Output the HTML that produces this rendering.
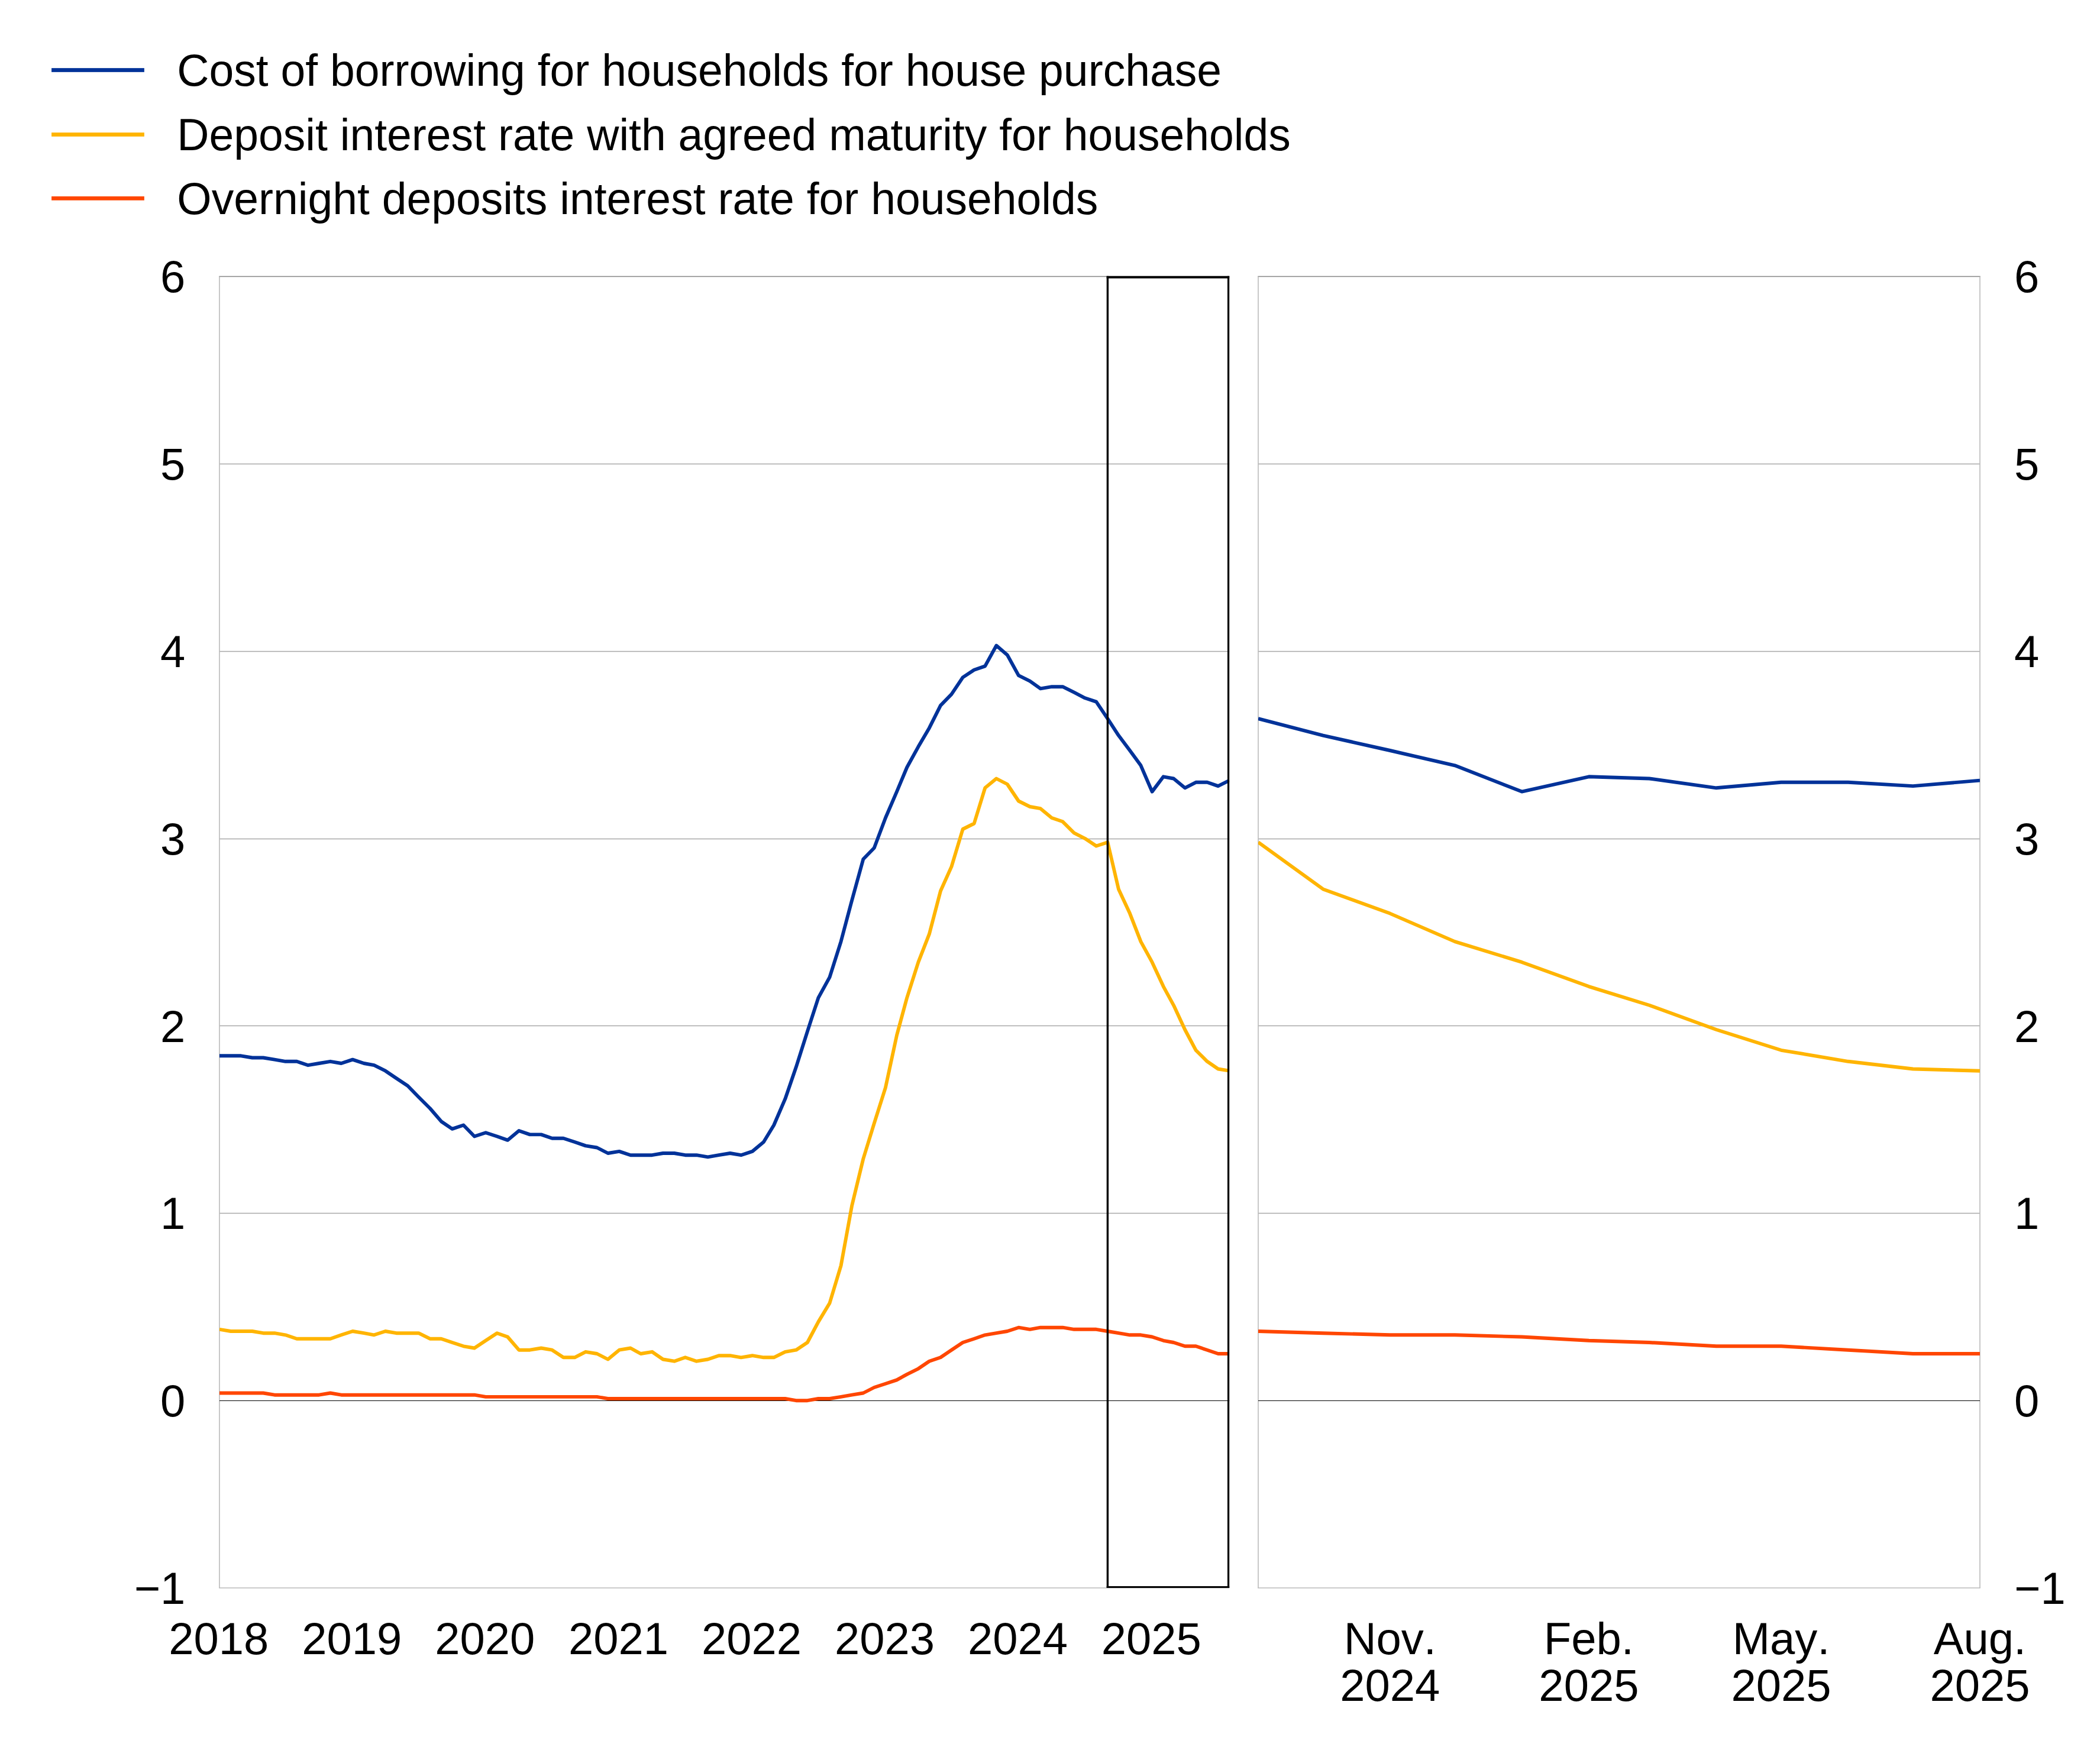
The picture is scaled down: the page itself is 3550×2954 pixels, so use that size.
<!DOCTYPE html>
<html lang="en"><head><meta charset="utf-8"><title>Bank interest rates for households</title>
<style>
html,body{margin:0;padding:0;background:#fff;}
body{width:3550px;height:2954px;overflow:hidden;}
svg{display:block;}
text{font-family:"Liberation Sans",Arial,Helvetica,sans-serif;font-size:76px;fill:#000;font-kerning:none;}
</style></head><body>
<svg width="3550" height="2954" viewBox="0 0 3550 2954">
<rect width="3550" height="2954" fill="#fff"/>
<g>
<rect x="87.1" y="115.15" width="156.8" height="6.7" fill="#003299"/>
<text x="299.3" y="145.0" style="font-size:75.1px">Cost of borrowing for households for house purchase</text>
<rect x="87.1" y="224.15" width="156.8" height="6.7" fill="#ffb400"/>
<text x="299.3" y="253.8" style="font-size:75.1px">Deposit interest rate with agreed maturity for households</text>
<rect x="87.1" y="332.05" width="156.8" height="6.7" fill="#ff4600"/>
<text x="299.3" y="362.2" style="font-size:75.1px">Overnight deposits interest rate for households</text>
</g>
<g>
<clipPath id="cl"><rect x="371.0" y="467.50" width="1707.20" height="2217.50"/></clipPath>
<line x1="371.0" x2="2078.2" y1="2051.5" y2="2051.5" stroke="#a8a8a8" stroke-width="1.33"/>
<line x1="371.0" x2="2078.2" y1="1734.5" y2="1734.5" stroke="#a8a8a8" stroke-width="1.33"/>
<line x1="371.0" x2="2078.2" y1="1418.5" y2="1418.5" stroke="#a8a8a8" stroke-width="1.33"/>
<line x1="371.0" x2="2078.2" y1="1101.5" y2="1101.5" stroke="#a8a8a8" stroke-width="1.33"/>
<line x1="371.0" x2="2078.2" y1="784.5" y2="784.5" stroke="#a8a8a8" stroke-width="1.33"/>
<line x1="370.2" x2="2078.2" y1="467.5" y2="467.5" stroke="#858585" stroke-width="1.33"/>
<line x1="370.2" x2="2078.2" y1="2685.0" y2="2685.0" stroke="#bababa" stroke-width="1.6"/>
<line x1="371.0" x2="371.0" y1="467.5" y2="2685.0" stroke="#bababa" stroke-width="1.6"/>
<line x1="371.0" x2="2078.2" y1="2368.5" y2="2368.5" stroke="#000" stroke-width="1.15"/>
<g clip-path="url(#cl)">
<polyline points="371.0,1785.3 390.1,1785.3 407.4,1785.3 426.5,1788.5 445.0,1788.5 464.1,1791.6 482.6,1794.8 501.7,1794.8 520.8,1801.2 539.3,1798.0 558.4,1794.8 576.9,1798.0 596.1,1791.6 615.2,1798.0 632.4,1801.2 651.5,1810.7 670.0,1823.3 689.2,1836.0 707.7,1855.0 726.8,1874.0 745.9,1896.2 764.4,1908.9 783.5,1902.5 802.0,1921.5 821.1,1915.2 840.2,1921.5 858.1,1927.9 877.2,1912.0 895.7,1918.4 914.8,1918.4 933.3,1924.7 952.4,1924.7 971.5,1931.0 990.0,1937.4 1009.2,1940.5 1027.7,1950.0 1046.8,1946.9 1065.9,1953.2 1083.1,1953.2 1102.3,1953.2 1120.8,1950.0 1139.9,1950.0 1158.4,1953.2 1177.5,1953.2 1196.6,1956.4 1215.1,1953.2 1234.2,1950.0 1252.7,1953.2 1271.8,1946.9 1290.9,1931.0 1308.2,1902.5 1327.3,1858.2 1345.8,1804.3 1364.9,1744.1 1383.4,1687.1 1402.5,1652.3 1421.6,1592.1 1440.1,1522.4 1459.3,1452.7 1477.8,1433.7 1496.9,1383.0 1516.0,1338.6 1533.2,1297.5 1552.4,1262.6 1570.9,1230.9 1590.0,1192.9 1608.5,1173.9 1627.6,1145.4 1646.7,1132.7 1665.2,1126.4 1684.3,1091.6 1702.8,1107.4 1721.9,1142.2 1741.0,1151.7 1758.9,1164.4 1778.0,1161.2 1796.5,1161.2 1815.6,1170.7 1834.1,1180.3 1853.2,1186.6 1872.4,1215.1 1890.9,1243.6 1910.0,1269.0 1928.5,1294.3 1947.6,1338.6 1966.7,1313.3 1984.0,1316.5 2003.1,1332.3 2021.6,1322.8 2040.7,1322.8 2059.2,1329.1 2078.3,1319.6" fill="none" stroke="#003299" stroke-width="5.9" stroke-linejoin="round" stroke-linecap="butt"/>
<polyline points="371.0,2247.8 390.1,2251.0 407.4,2251.0 426.5,2251.0 445.0,2254.2 464.1,2254.2 482.6,2257.3 501.7,2263.7 520.8,2263.7 539.3,2263.7 558.4,2263.7 576.9,2257.3 596.1,2251.0 615.2,2254.2 632.4,2257.3 651.5,2251.0 670.0,2254.2 689.2,2254.2 707.7,2254.2 726.8,2263.7 745.9,2263.7 764.4,2270.0 783.5,2276.3 802.0,2279.5 821.1,2266.8 840.2,2254.2 858.1,2260.5 877.2,2282.7 895.7,2282.7 914.8,2279.5 933.3,2282.7 952.4,2295.3 971.5,2295.3 990.0,2285.8 1009.2,2289.0 1027.7,2298.5 1046.8,2282.7 1065.9,2279.5 1083.1,2289.0 1102.3,2285.8 1120.8,2298.5 1139.9,2301.7 1158.4,2295.3 1177.5,2301.7 1196.6,2298.5 1215.1,2292.2 1234.2,2292.2 1252.7,2295.3 1271.8,2292.2 1290.9,2295.3 1308.2,2295.3 1327.3,2285.8 1345.8,2282.7 1364.9,2270.0 1383.4,2235.1 1402.5,2203.5 1421.6,2140.1 1440.1,2038.7 1459.3,1959.5 1477.8,1899.4 1496.9,1839.2 1516.0,1750.5 1533.2,1687.1 1552.4,1626.9 1570.9,1579.4 1590.0,1506.5 1608.5,1465.4 1627.6,1402.0 1646.7,1392.5 1665.2,1332.3 1684.3,1316.5 1702.8,1326.0 1721.9,1354.5 1741.0,1364.0 1758.9,1367.2 1778.0,1383.0 1796.5,1389.3 1815.6,1408.3 1834.1,1417.8 1853.2,1430.5 1872.4,1424.2 1890.9,1503.4 1910.0,1544.6 1928.5,1592.1 1947.6,1626.9 1966.7,1668.1 1984.0,1699.8 2003.1,1741.0 2021.6,1775.8 2040.7,1794.8 2059.2,1807.5 2078.3,1810.7" fill="none" stroke="#ffb400" stroke-width="5.9" stroke-linejoin="round" stroke-linecap="butt"/>
<polyline points="371.0,2355.5 390.1,2355.5 407.4,2355.5 426.5,2355.5 445.0,2355.5 464.1,2358.7 482.6,2358.7 501.7,2358.7 520.8,2358.7 539.3,2358.7 558.4,2355.5 576.9,2358.7 596.1,2358.7 615.2,2358.7 632.4,2358.7 651.5,2358.7 670.0,2358.7 689.2,2358.7 707.7,2358.7 726.8,2358.7 745.9,2358.7 764.4,2358.7 783.5,2358.7 802.0,2358.7 821.1,2361.9 840.2,2361.9 858.1,2361.9 877.2,2361.9 895.7,2361.9 914.8,2361.9 933.3,2361.9 952.4,2361.9 971.5,2361.9 990.0,2361.9 1009.2,2361.9 1027.7,2365.0 1046.8,2365.0 1065.9,2365.0 1083.1,2365.0 1102.3,2365.0 1120.8,2365.0 1139.9,2365.0 1158.4,2365.0 1177.5,2365.0 1196.6,2365.0 1215.1,2365.0 1234.2,2365.0 1252.7,2365.0 1271.8,2365.0 1290.9,2365.0 1308.2,2365.0 1327.3,2365.0 1345.8,2368.2 1364.9,2368.2 1383.4,2365.0 1402.5,2365.0 1421.6,2361.9 1440.1,2358.7 1459.3,2355.5 1477.8,2346.0 1496.9,2339.7 1516.0,2333.4 1533.2,2323.8 1552.4,2314.3 1570.9,2301.7 1590.0,2295.3 1608.5,2282.7 1627.6,2270.0 1646.7,2263.7 1665.2,2257.3 1684.3,2254.2 1702.8,2251.0 1721.9,2244.7 1741.0,2247.8 1758.9,2244.7 1778.0,2244.7 1796.5,2244.7 1815.6,2247.8 1834.1,2247.8 1853.2,2247.8 1872.4,2251.0 1890.9,2254.2 1910.0,2257.3 1928.5,2257.3 1947.6,2260.5 1966.7,2266.8 1984.0,2270.0 2003.1,2276.3 2021.6,2276.3 2040.7,2282.7 2059.2,2289.0 2078.3,2289.0" fill="none" stroke="#ff4600" stroke-width="5.9" stroke-linejoin="round" stroke-linecap="butt"/>
</g>
<rect x="1870.7" y="466.8" width="207.5" height="3.9" fill="#000"/>
<rect x="1870.7" y="2682.05" width="207.5" height="2.95" fill="#000"/>
<rect x="1870.7" y="466.8" width="3.4" height="2218.2" fill="#000"/>
<rect x="2074.95" y="466.8" width="3.25" height="2218.2" fill="#000"/>
</g>
<g>
<clipPath id="cr"><rect x="2127.0" y="467.50" width="1220.00" height="2217.50"/></clipPath>
<line x1="2127.0" x2="3347.0" y1="2051.5" y2="2051.5" stroke="#a8a8a8" stroke-width="1.33"/>
<line x1="2127.0" x2="3347.0" y1="1734.5" y2="1734.5" stroke="#a8a8a8" stroke-width="1.33"/>
<line x1="2127.0" x2="3347.0" y1="1418.5" y2="1418.5" stroke="#a8a8a8" stroke-width="1.33"/>
<line x1="2127.0" x2="3347.0" y1="1101.5" y2="1101.5" stroke="#a8a8a8" stroke-width="1.33"/>
<line x1="2127.0" x2="3347.0" y1="784.5" y2="784.5" stroke="#a8a8a8" stroke-width="1.33"/>
<line x1="2126.2" x2="3347.8" y1="467.5" y2="467.5" stroke="#858585" stroke-width="1.33"/>
<line x1="2126.2" x2="3347.8" y1="2685.0" y2="2685.0" stroke="#bababa" stroke-width="1.6"/>
<line x1="2127.0" x2="2127.0" y1="467.5" y2="2685.0" stroke="#bababa" stroke-width="1.6"/>
<line x1="3347.0" x2="3347.0" y1="467.5" y2="2685.0" stroke="#bababa" stroke-width="1.6"/>
<line x1="2127.0" x2="3347.0" y1="2368.5" y2="2368.5" stroke="#000" stroke-width="1.15"/>
<g clip-path="url(#cr)">
<polyline points="2127.0,1215.1 2236.6,1243.6 2349.8,1269.0 2459.4,1294.3 2572.6,1338.6 2685.9,1313.3 2788.1,1316.5 2901.4,1332.3 3011.0,1322.8 3124.2,1322.8 3233.8,1329.1 3347.0,1319.6" fill="none" stroke="#003299" stroke-width="5.9" stroke-linejoin="round" stroke-linecap="butt"/>
<polyline points="2127.0,1424.2 2236.6,1503.4 2349.8,1544.6 2459.4,1592.1 2572.6,1626.9 2685.9,1668.1 2788.1,1699.8 2901.4,1741.0 3011.0,1775.8 3124.2,1794.8 3233.8,1807.5 3347.0,1810.7" fill="none" stroke="#ffb400" stroke-width="5.9" stroke-linejoin="round" stroke-linecap="butt"/>
<polyline points="2127.0,2251.0 2236.6,2254.2 2349.8,2257.3 2459.4,2257.3 2572.6,2260.5 2685.9,2266.8 2788.1,2270.0 2901.4,2276.3 3011.0,2276.3 3124.2,2282.7 3233.8,2289.0 3347.0,2289.0" fill="none" stroke="#ff4600" stroke-width="5.9" stroke-linejoin="round" stroke-linecap="butt"/>
</g>
</g>
<g>
<text x="313.3" y="2711.9" text-anchor="end">−1</text>
<text x="3405.0" y="2711.9">−1</text>
<text x="313.3" y="2395.1" text-anchor="end">0</text>
<text x="3405.0" y="2395.1">0</text>
<text x="313.3" y="2078.3" text-anchor="end">1</text>
<text x="3405.0" y="2078.3">1</text>
<text x="313.3" y="1761.5" text-anchor="end">2</text>
<text x="3405.0" y="1761.5">2</text>
<text x="313.3" y="1444.7" text-anchor="end">3</text>
<text x="3405.0" y="1444.7">3</text>
<text x="313.3" y="1128.0" text-anchor="end">4</text>
<text x="3405.0" y="1128.0">4</text>
<text x="313.3" y="811.2" text-anchor="end">5</text>
<text x="3405.0" y="811.2">5</text>
<text x="313.3" y="494.4" text-anchor="end">6</text>
<text x="3405.0" y="494.4">6</text>
</g>
<g>
<text x="369.7" y="2797.3" text-anchor="middle">2018</text>
<text x="594.8" y="2797.3" text-anchor="middle">2019</text>
<text x="819.8" y="2797.3" text-anchor="middle">2020</text>
<text x="1045.5" y="2797.3" text-anchor="middle">2021</text>
<text x="1270.5" y="2797.3" text-anchor="middle">2022</text>
<text x="1495.6" y="2797.3" text-anchor="middle">2023</text>
<text x="1720.6" y="2797.3" text-anchor="middle">2024</text>
<text x="1946.3" y="2797.3" text-anchor="middle">2025</text>
</g>
<g>
<text x="2349.8" y="2797.3" text-anchor="middle">Nov.</text>
<text x="2349.8" y="2875.8" text-anchor="middle">2024</text>
<text x="2685.9" y="2797.3" text-anchor="middle">Feb.</text>
<text x="2685.9" y="2875.8" text-anchor="middle">2025</text>
<text x="3011.0" y="2797.3" text-anchor="middle">May.</text>
<text x="3011.0" y="2875.8" text-anchor="middle">2025</text>
<text x="3347.0" y="2797.3" text-anchor="middle">Aug.</text>
<text x="3347.0" y="2875.8" text-anchor="middle">2025</text>
</g>
</svg></body></html>
